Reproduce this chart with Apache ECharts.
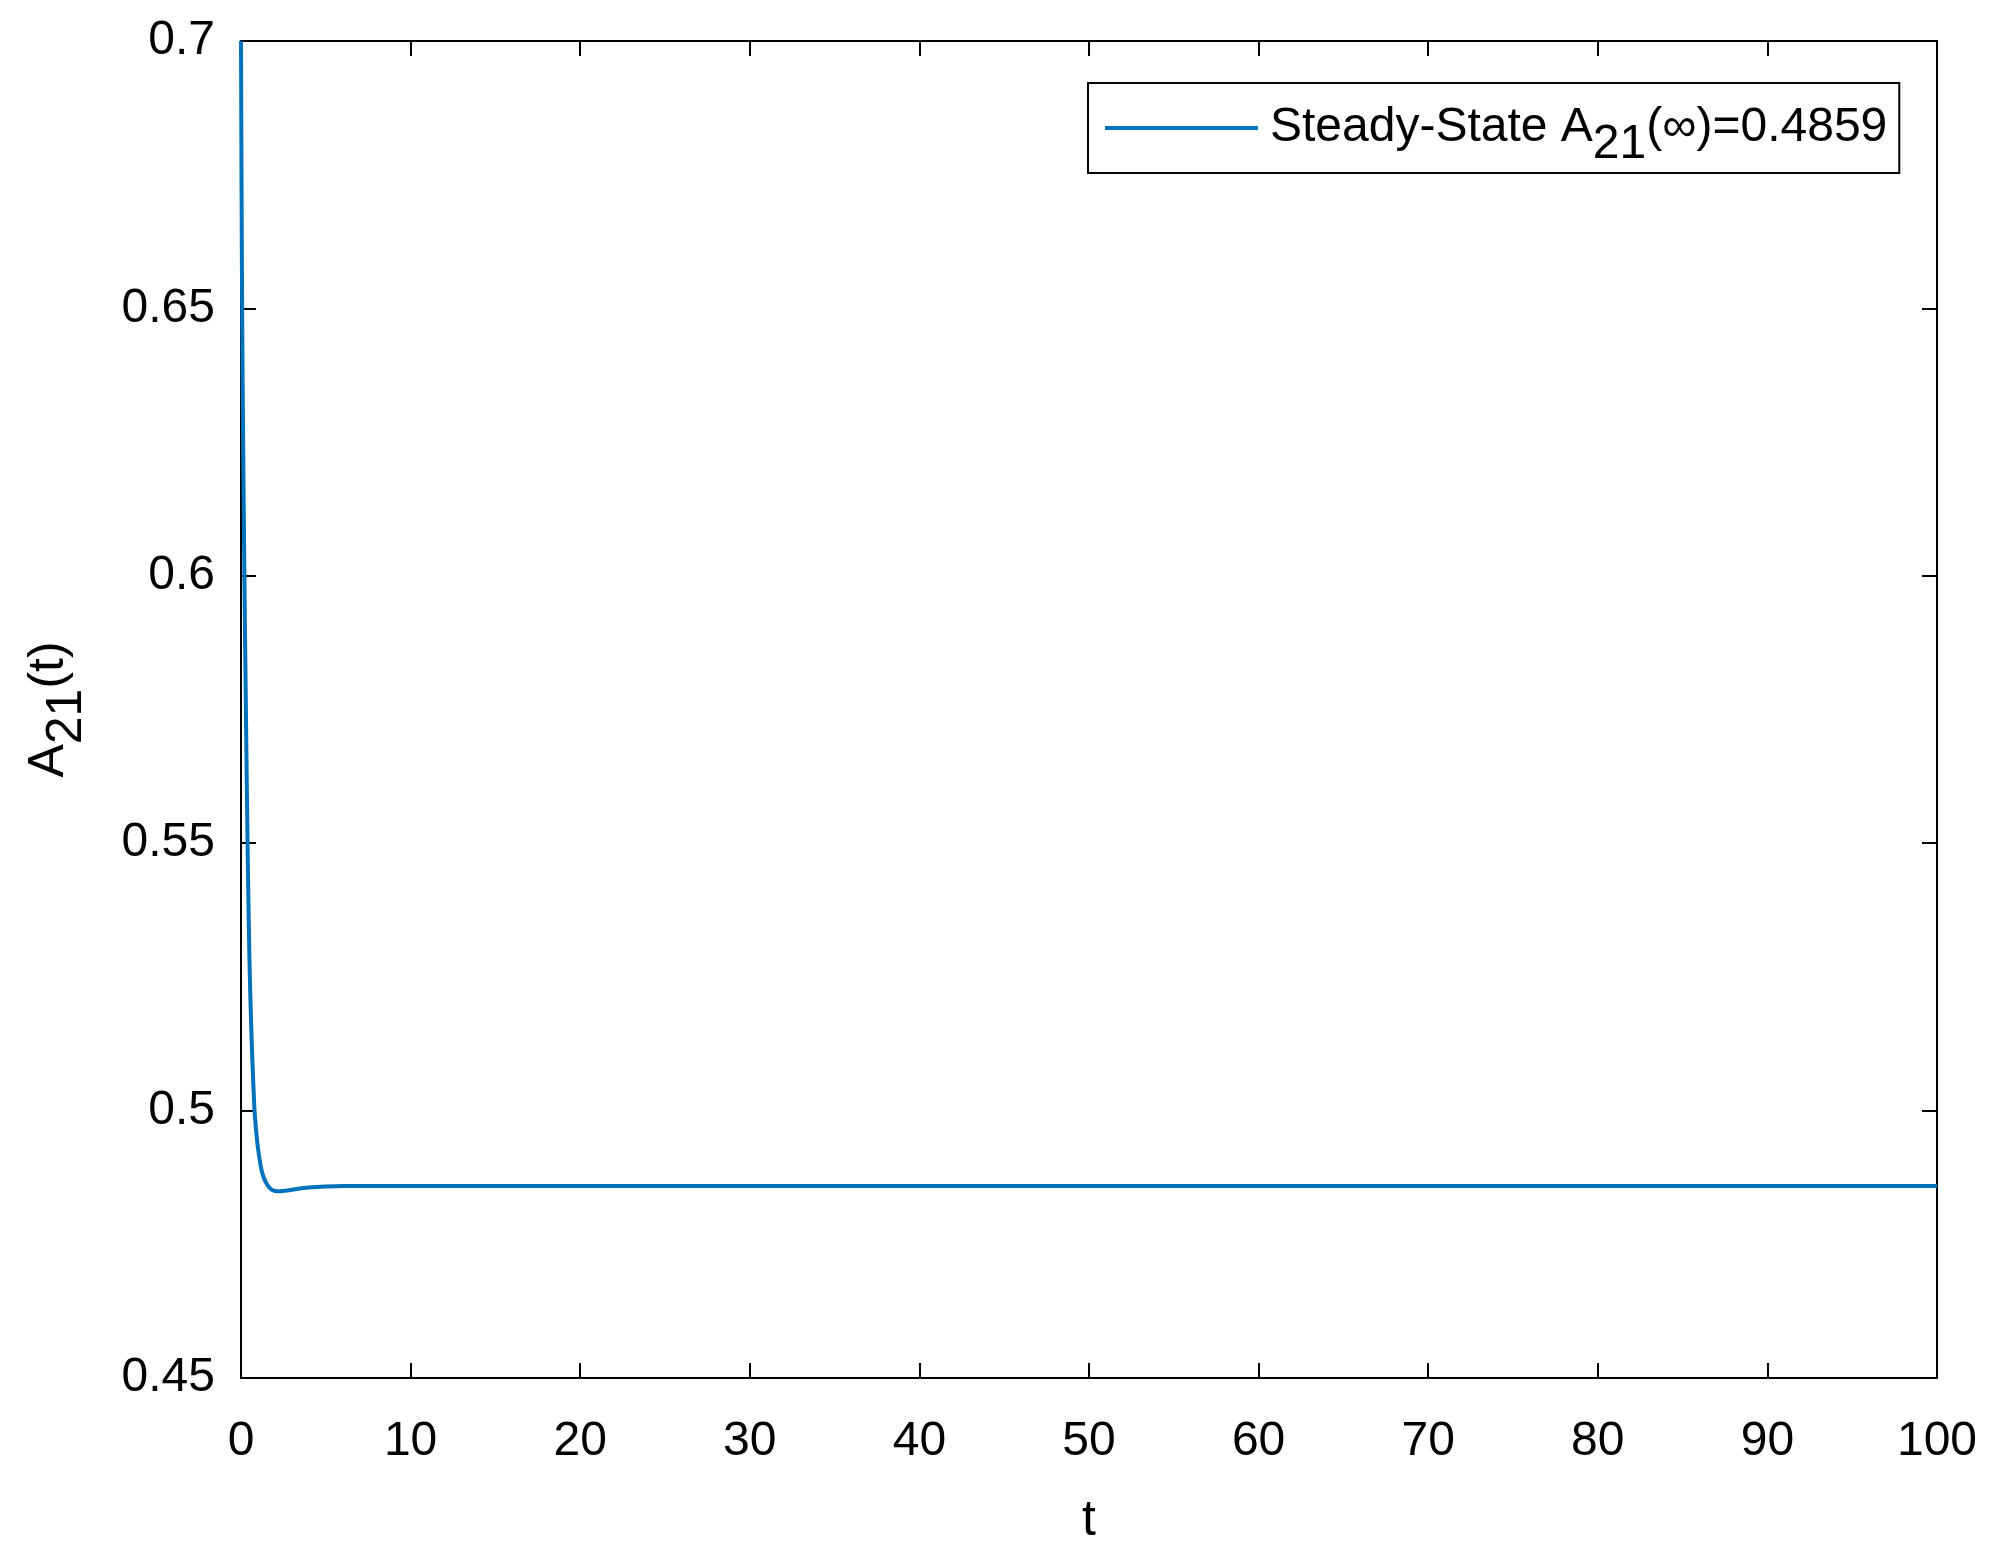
<!DOCTYPE html>
<html lang="en">

<head>
    <meta charset="UTF-8">
    <title>A21(t)</title>
    <script src="https://cdn.jsdelivr.net/npm/echarts@6/dist/echarts.min.js"></script>
</head>

<body style="margin:0;background:#fff;">
    <div id="main" style="width: 1999px;height:1551px;"></div>
    <script type="text/javascript">
        // time points and A21 values
        var tValues = [0, 0.05, 0.1, 0.2, 0.3, 0.4, 0.5, 0.6, 0.7, 0.8, 0.9, 1.0, 1.2, 1.4, 1.7, 2.1, 2.6, 3.2, 4, 5, 6, 10, 30, 60, 100];
        var aValues = [0.7, 0.66, 0.635, 0.6, 0.572, 0.547, 0.528, 0.516, 0.507, 0.5, 0.496, 0.493, 0.489, 0.487, 0.4855, 0.4849, 0.485, 0.4853, 0.4856, 0.4858, 0.4859, 0.4859, 0.4859, 0.4859, 0.4859];
        var xTicks = [0, 10, 20, 30, 40, 50, 60, 70, 80, 90, 100];
        var yTicks = [0.45, 0.5, 0.55, 0.6, 0.65, 0.7];

        var seriesName = 'steady';
        var font = 'Liberation Sans, Arial, sans-serif';

        var lineData = tValues.map(function (t, i) { return [t, aValues[i]]; });

        var myChart = echarts.init(document.getElementById('main'));

        var tickStyle = { show: true, inside: true, length: 15, lineStyle: { color: '#000', width: 2 } };
        var axisLine = { show: true, onZero: false, lineStyle: { color: '#000', width: 2 } };

        myChart.setOption({
            backgroundColor: '#fff',
            animation: false,
            grid: {
                left: 241, top: 41, right: 62, bottom: 173,
                outerBoundsMode: 'none',
                show: true, borderColor: '#000', borderWidth: 2, backgroundColor: '#fff'
            },
            legend: {
                data: [seriesName],
                left: 1088, top: 83,
                orient: 'vertical',
                backgroundColor: '#fff',
                borderColor: '#000',
                borderWidth: 2,
                borderRadius: 0,
                padding: [4, 12, 4, 17],
                icon: 'rect',
                itemWidth: 153,
                itemHeight: 4,
                itemGap: 0,
                formatter: function () {
                    return '{f|Steady-State A}{s|21}{m|(\u221e)=0.4859}';
                },
                textStyle: {
                    rich: {
                        f: { fontFamily: font, fontSize: 48, color: '#000', lineHeight: 54, padding: [0, 0, 0, 7] },
                        m: { fontFamily: font, fontSize: 48, color: '#000', lineHeight: 54 },
                        s: { fontFamily: font, fontSize: 48, color: '#000', lineHeight: 54, padding: [34, 0, 0, 0] }
                    }
                }
            },
            xAxis: [{
                type: 'value', min: 0, max: 100, interval: 10,
                position: 'bottom',
                name: 't', nameLocation: 'middle', nameGap: 118,
                nameTextStyle: { fontFamily: font, fontSize: 50, color: '#000' },
                axisLine: axisLine, axisTick: tickStyle,
                axisLabel: {
                    fontFamily: font, fontSize: 48, color: '#000', margin: 40,
                    formatter: function (v) { return xTicks.indexOf(v) >= 0 ? String(v) : ''; }
                },
                splitLine: { show: false }
            }, {
                type: 'value', min: 0, max: 100, interval: 10,
                position: 'top',
                axisLine: axisLine, axisTick: tickStyle,
                axisLabel: { show: false }, splitLine: { show: false }
            }],
            yAxis: [{
                type: 'value', min: 0.45, max: 0.7, interval: 0.05,
                position: 'left',
                name: '{m|A}{s|21}{m|(t)}', nameLocation: 'middle', nameGap: 164, nameRotate: 90,
                nameTextStyle: {
                    rich: {
                        m: { fontFamily: font, fontSize: 50, color: '#000', lineHeight: 56 },
                        s: { fontFamily: font, fontSize: 50, color: '#000', lineHeight: 56, padding: [36, 0, 0, 0] }
                    }
                },
                axisLine: axisLine, axisTick: tickStyle,
                axisLabel: {
                    fontFamily: font, fontSize: 48, color: '#000', margin: 26,
                    padding: [10, 0, 0, 0],
                    formatter: function (v) {
                        var r = Math.round(v * 100) / 100;
                        return yTicks.indexOf(r) >= 0 ? String(r) : '';
                    }
                },
                splitLine: { show: false }
            }, {
                type: 'value', min: 0.45, max: 0.7, interval: 0.05,
                position: 'right',
                axisLine: axisLine, axisTick: tickStyle,
                axisLabel: { show: false }, splitLine: { show: false }
            }],
            series: [{
                name: seriesName,
                type: 'line',
                xAxisIndex: 0, yAxisIndex: 0,
                data: lineData,
                symbol: 'none',
                smooth: 0.3,
                clip: true,
                lineStyle: { color: '#0072BD', width: 4 },
                itemStyle: { color: '#0072BD' }
            }]
        });
    </script>
</body>

</html>
